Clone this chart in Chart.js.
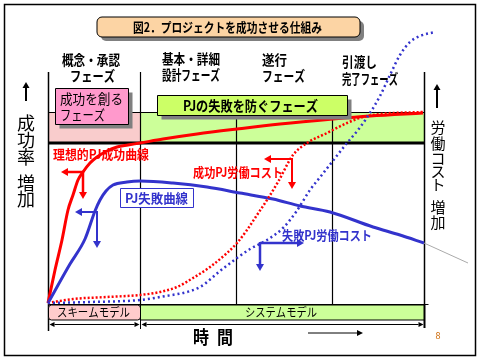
<!DOCTYPE html>
<html lang="ja">
<head>
<meta charset="UTF-8">
<title>図2．プロジェクトを成功させる仕組み</title>
<script src="https://cdn.jsdelivr.net/npm/chart.js"></script>
<style>
  html, body { margin: 0; padding: 0; background: #fff; }
  canvas { display: block; }
</style>
</head>
<body>
<canvas id="chart" width="480" height="360"></canvas>
<script>
// 時間軸（任意単位）: 0 = 開始, 376 = 引渡し完了
const phaseEdges = [0, 92, 188, 284, 376];

// 理想的PJ成功曲線
const idealT = [0, 7, 14, 20, 25, 30, 35, 42, 49, 59, 69, 80, 92, 115, 149, 189, 232, 285, 322, 375];
const idealV = [0, 33, 63, 93, 108, 123, 131, 140, 146, 152, 156, 158, 160, 164, 169, 174, 179, 184, 187, 190];

// PJ失敗曲線
const failT = [0, 22, 37, 47, 52, 58, 65, 79, 92, 125, 159, 192, 225, 252, 282, 325, 352, 376];
const failV = [0, 39, 64, 92, 103, 112, 118, 121, 122, 120, 116, 110, 104, 97, 91, 76, 68, 60];
// 失敗曲線の延長（灰色）
const failExtT = [376, 420];
const failExtV = [60, 40];

// 成功PJ労働コスト
const costOkT = [0, 25, 59, 92, 112, 129, 145, 162, 179, 189, 199, 209, 219, 230, 245, 259, 279, 299, 315, 332, 375];
const costOkV = [0, 4, 6, 8, 11, 16, 25, 36, 50, 60, 73, 88, 103, 121, 148, 160, 170, 180, 186, 189, 191];

// 失敗PJ労働コスト
const costNgT = [0, 42, 92, 112, 152, 172, 189, 202, 219, 235, 248, 262, 273, 284, 299, 310, 322, 332, 342, 352, 362, 372, 387];
const costNgV = [0, 1, 3, 6, 16, 32, 45, 54, 63, 75, 91, 113, 127, 141, 160, 173, 190, 207, 228, 248, 261, 267, 271];

const pts = (t, v) => t.map((x, i) => ({ x: x, y: v[i] }));
const JP = "'Noto Sans CJK JP', sans-serif";

function fitText(ctx, text, x, y, w, font, color) {
  ctx.save();
  ctx.font = font;
  const m = ctx.measureText(text).width;
  ctx.translate(x, y);
  ctx.scale(w / m, 1);
  ctx.textAlign = 'left';
  ctx.textBaseline = 'middle';
  ctx.fillStyle = color;
  ctx.fillText(text, 0, 0);
  ctx.restore();
}
function vText(ctx, chars, x, ys, font, color) {
  ctx.save();
  ctx.font = font; ctx.fillStyle = color;
  ctx.textAlign = 'center'; ctx.textBaseline = 'middle';
  chars.split('').forEach((c, i) => ctx.fillText(c, x, ys[i]));
  ctx.restore();
}
function arrow(ctx, x1, y1, x2, y2, color, lw, hl, hw) {
  const a = Math.atan2(y2 - y1, x2 - x1);
  const bx = x2 - hl * Math.cos(a), by = y2 - hl * Math.sin(a);
  ctx.save();
  ctx.strokeStyle = color; ctx.fillStyle = color; ctx.lineWidth = lw;
  ctx.beginPath(); ctx.moveTo(x1, y1); ctx.lineTo(bx, by); ctx.stroke();
  ctx.beginPath();
  ctx.moveTo(x2, y2);
  ctx.lineTo(bx + hw * Math.sin(a), by - hw * Math.cos(a));
  ctx.lineTo(bx - hw * Math.sin(a), by + hw * Math.cos(a));
  ctx.closePath(); ctx.fill();
  ctx.restore();
}
function box(ctx, x, y, w, h, fill, stroke, shadow, r) {
  ctx.save();
  if (shadow) {
    ctx.fillStyle = '#808080';
    ctx.beginPath(); ctx.roundRect(x + 4, y + 4, w, h, r || 0); ctx.fill();
  }
  ctx.fillStyle = fill;
  ctx.beginPath(); ctx.roundRect(x, y, w, h, r || 0); ctx.fill();
  if (stroke) { ctx.strokeStyle = stroke; ctx.lineWidth = 1; ctx.stroke(); }
  ctx.restore();
}
function line(ctx, x1, y1, x2, y2, color, lw) {
  ctx.save();
  ctx.strokeStyle = color; ctx.lineWidth = lw;
  ctx.beginPath(); ctx.moveTo(x1, y1); ctx.lineTo(x2, y2); ctx.stroke();
  ctx.restore();
}

const decor = {
  id: 'decor',
  beforeDatasetsDraw(chart) {
    const ctx = chart.ctx;
    const xs = chart.scales.x;
    const ex = phaseEdges.map(e => Math.round(xs.getPixelForValue(e)) + 0.5);
    // 外枠
    ctx.save(); ctx.strokeStyle = '#000'; ctx.lineWidth = 1.5;
    ctx.strokeRect(4.5, 4.5, 471, 351); ctx.restore();
    // 上部の帯
    ctx.fillStyle = '#f9cccc'; ctx.fillRect(ex[0], 112, ex[1] - ex[0], 31);
    ctx.fillStyle = '#ccff99'; ctx.fillRect(ex[1], 112, ex[4] - ex[1], 31);
    line(ctx, ex[0], 112.5, ex[4], 112.5, '#000', 1);
    // フェーズ境界
    ex.forEach((x, i) => {
      const top = (i === 2 || i === 3) ? 112 : 72;
      const bot = i === 0 ? 331 : 305;
      line(ctx, x, top, x, bot, '#000', i === 0 || i === 4 ? 1.5 : 1.2);
    });
    line(ctx, ex[0], 143, ex[4], 143, '#000', 3);
    // 下部モデル帯
    line(ctx, ex[0], 304.5, ex[4] + 4, 304.5, '#000', 1);
    box(ctx, ex[0], 305, ex[1] - ex[0], 15, '#ffcccc', '#000', false, 3);
    box(ctx, ex[1], 305, ex[4] - ex[1], 15, '#ccff99', '#000', false, 0);
    line(ctx, ex[4], 305, ex[4], 328, '#000', 2);
    // 寸法線
    arrow(ctx, ex[0] + 10, 324.5, ex[1] - 1, 324.5, '#000', 1, 5, 2.5);
    arrow(ctx, ex[1] - 10, 324.5, ex[0] + 1, 324.5, '#000', 1, 5, 2.5);
    arrow(ctx, ex[1] + 10, 324.5, ex[4] - 1, 324.5, '#000', 1, 5, 2.5);
    arrow(ctx, ex[4] - 10, 324.5, ex[1] + 1, 324.5, '#000', 1, 5, 2.5);
    line(ctx, ex[1], 320, ex[1], 329, '#000', 1);
  },
  afterDatasetsDraw(chart) {
    const ctx = chart.ctx;
    const red = '#ff0000', blue = '#3333cc';
    // タイトル
    box(ctx, 97, 17, 263, 20, '#fcd4a4', '#000', true, 5);
    fitText(ctx, '図2．プロジェクトを成功させる仕組み', 133, 27.5, 189, 'bold 13px ' + JP, '#000');
    // フェーズ名
    const ph = 'bold 14px ' + JP;
    fitText(ctx, '概念・承認', 62, 60, 58, ph, '#000');
    fitText(ctx, 'フェーズ', 70, 76, 45, ph, '#000');
    fitText(ctx, '基本・詳細', 162, 59, 58, ph, '#000');
    fitText(ctx, '設計フェーズ', 162, 75, 58, ph, '#000');
    fitText(ctx, '遂行', 262, 60, 25, ph, '#000');
    fitText(ctx, 'フェーズ', 262, 76, 43, ph, '#000');
    fitText(ctx, '引渡し', 342, 62, 35, ph, '#000');
    fitText(ctx, '完了フェーズ', 342, 79, 56, ph, '#000');
    // 帯の中の箱
    box(ctx, 55.5, 88.5, 73, 36, '#ff99cc', '#000', true, 0);
    fitText(ctx, '成功を創る', 60, 99, 63, '14px ' + JP, '#000');
    fitText(ctx, 'フェーズ', 60, 115, 45, '14px ' + JP, '#000');
    box(ctx, 157.5, 95.5, 190, 20, '#ccff66', '#000', true, 0);
    fitText(ctx, 'PJの失敗を防ぐフェーズ', 183, 105.5, 135, 'bold 14px ' + JP, '#000');
    // 縦軸ラベル
    arrow(ctx, 26, 101, 26, 82, '#000', 2, 6, 3.5);
    vText(ctx, '成功率', 26, [123, 140, 157], '18px ' + JP, '#000');
    vText(ctx, '増加', 26, [183, 199], '18px ' + JP, '#000');
    arrow(ctx, 437, 108, 437, 84, '#000', 2, 6, 3.5);
    vText(ctx, '労働コスト', 438, [127, 143, 158, 171, 184], '15px ' + JP, '#000');
    vText(ctx, '増加', 438, [207, 222], '15px ' + JP, '#000');
    // 曲線の注記
    fitText(ctx, '理想的PJ成功曲線', 53, 154, 96, 'bold 13px ' + JP, red);
    arrow(ctx, 83, 172, 61, 172, red, 2.5, 7, 4);
    arrow(ctx, 83, 171, 83, 199, red, 2.5, 7, 4);
    box(ctx, 120.5, 188.5, 73, 19, '#fff', blue, false, 0);
    fitText(ctx, 'PJ失敗曲線', 125, 198, 63, 'bold 13px ' + JP, blue);
    arrow(ctx, 97, 212, 75, 212, blue, 2, 7, 4);
    arrow(ctx, 97, 211, 97, 248, blue, 2, 7, 4);
    fitText(ctx, '成功PJ労働コスト', 193, 172, 90, 'bold 13px ' + JP, red);
    arrow(ctx, 292, 159, 264, 159, red, 2, 7, 4);
    arrow(ctx, 292, 158, 292, 189, red, 2, 7, 4);
    fitText(ctx, '失敗PJ労働コスト', 282, 235, 90, 'bold 13px ' + JP, blue);
    arrow(ctx, 260, 243, 304, 243, blue, 2.5, 7, 4);
    arrow(ctx, 260, 242, 260, 271, blue, 2.5, 7, 4);
    // 下部テキスト
    fitText(ctx, 'スキームモデル', 57, 312.5, 73, '12px ' + JP, '#000');
    fitText(ctx, 'システムモデル', 245, 312.5, 72, '12px ' + JP, '#000');
    fitText(ctx, '時', 193, 337, 16, 'bold 18px ' + JP, '#000');
    fitText(ctx, '間', 217, 337, 16, 'bold 18px ' + JP, '#000');
    arrow(ctx, 308, 333, 363, 333, '#000', 1, 6, 3);
    ctx.save(); ctx.font = '9px ' + JP; ctx.fillStyle = '#cc6600';
    ctx.textAlign = 'center'; ctx.textBaseline = 'middle';
    ctx.fillText('8', 438, 336); ctx.restore();
  }
};

new Chart(document.getElementById('chart'), {
  type: 'line',
  data: {
    datasets: [
      { label: '失敗PJ労働コスト', data: pts(costNgT, costNgV), borderColor: '#3333cc', borderWidth: 2.5, borderDash: [2, 3] },
      { label: '成功PJ労働コスト', data: pts(costOkT, costOkV), borderColor: '#ff0000', borderWidth: 2.5, borderDash: [2, 2] },
      { label: '延長', data: pts(failExtT, failExtV), borderColor: '#aaaaaa', borderWidth: 1 },
      { label: 'PJ失敗曲線', data: pts(failT, failV), borderColor: '#3333cc', borderWidth: 3 },
      { label: '理想的PJ成功曲線', data: pts(idealT, idealV), borderColor: '#ff0000', borderWidth: 3 }
    ]
  },
  options: {
    responsive: false,
    animation: false,
    events: [],
    layout: { padding: { left: 48, right: 12, top: 6, bottom: 57 } },
    elements: { point: { radius: 0 }, line: { cubicInterpolationMode: 'monotone', fill: false } },
    datasets: { line: { clip: false } },
    scales: {
      x: { type: 'linear', display: false, min: 0, max: 420 },
      y: { type: 'linear', display: false, min: 0, max: 297 }
    },
    plugins: { legend: { display: false }, tooltip: { enabled: false } }
  },
  plugins: [decor]
});
</script>
</body>
</html>
